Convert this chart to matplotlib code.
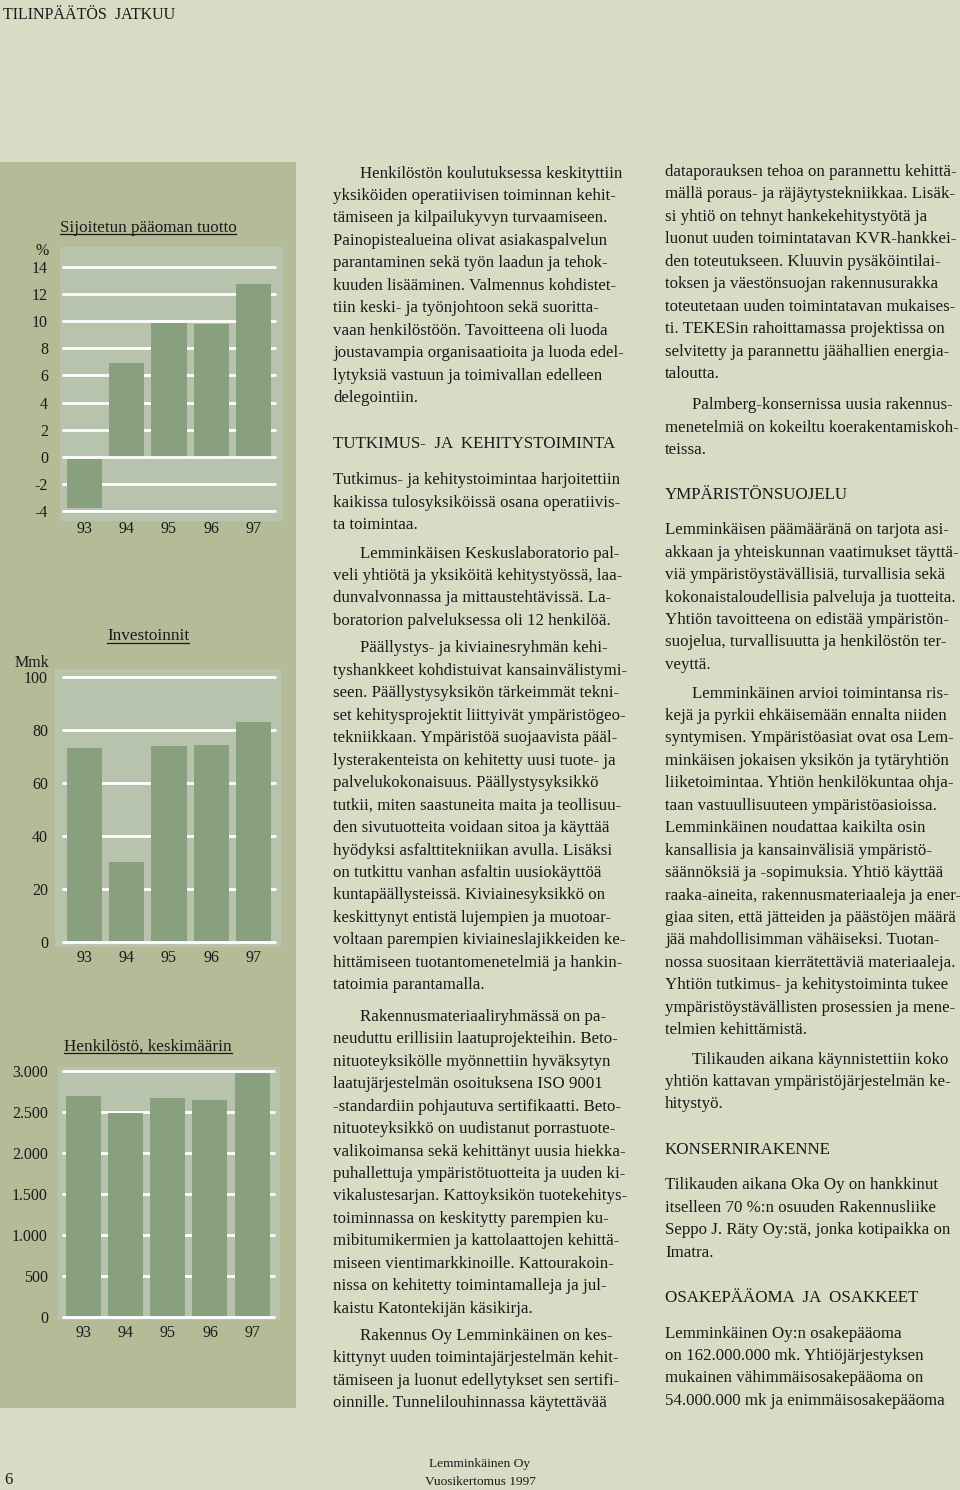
import matplotlib
matplotlib.use("Agg")
import matplotlib.pyplot as plt
from matplotlib.patches import Rectangle
from matplotlib.lines import Line2D

# ---------------- data ----------------
years = ["93", "94", "95", "96", "97"]
roce_values = [-3.8, 6.9, 9.9, 9.8, 12.8]
roce_ticks = [-4, -2, 0, 2, 4, 6, 8, 10, 12, 14]
invest_values = [73.0, 30.0, 74.0, 74.2, 83.0]
invest_ticks = [0, 20, 40, 60, 80, 100]
staff_values = [2700, 2490, 2670, 2640, 2975]
staff_ticks = [0, 500, 1000, 1500, 2000, 2500, 3000]
staff_tick_labels = ["0", "500", "1.000", "1.500", "2.000", "2.500", "3.000"]

chart_titles = ["Sijoitetun pääoman tuotto", "Investoinnit", "Henkilöstö, keskimäärin"]
unit_labels = ["%", "Mmk", ""]

header_text = "TILINPÄÄTÖS  JATKUU"
footer_lines = ["Lemminkäinen Oy", "Vuosikertomus 1997"]
page_number = "6"

col2_p1 = ["Henkilöstön koulutuksessa keskityttiin",
           "yksiköiden operatiivisen toiminnan kehit-",
           "tämiseen ja kilpailukyvyn turvaamiseen.",
           "Painopistealueina olivat asiakaspalvelun",
           "parantaminen sekä työn laadun ja tehok-",
           "kuuden lisääminen. Valmennus kohdistet-",
           "tiin keski- ja työnjohtoon sekä suoritta-",
           "vaan henkilöstöön. Tavoitteena oli luoda",
           "joustavampia organisaatioita ja luoda edel-",
           "lytyksiä vastuun ja toimivallan edelleen",
           "delegointiin."]
col2_h1 = "TUTKIMUS-  JA  KEHITYSTOIMINTA"
col2_p2 = ["Tutkimus- ja kehitystoimintaa harjoitettiin",
           "kaikissa tulosyksiköissä osana operatiivis-",
           "ta toimintaa."]
col2_p3 = ["Lemminkäisen Keskuslaboratorio pal-",
           "veli yhtiötä ja yksiköitä kehitystyössä, laa-",
           "dunvalvonnassa ja mittaustehtävissä. La-",
           "boratorion palveluksessa oli 12 henkilöä."]
col2_p4 = ["Päällystys- ja kiviainesryhmän kehi-",
           "tyshankkeet kohdistuivat kansainvälistymi-",
           "seen. Päällystysyksikön tärkeimmät tekni-",
           "set kehitysprojektit liittyivät ympäristögeo-",
           "tekniikkaan. Ympäristöä suojaavista pääl-",
           "lysterakenteista on kehitetty uusi tuote- ja",
           "palvelukokonaisuus. Päällystysyksikkö",
           "tutkii, miten saastuneita maita ja teollisuu-",
           "den sivutuotteita voidaan sitoa ja käyttää",
           "hyödyksi asfalttitekniikan avulla. Lisäksi",
           "on tutkittu vanhan asfaltin uusiokäyttöä",
           "kuntapäällysteissä. Kiviainesyksikkö on",
           "keskittynyt entistä lujempien ja muotoar-",
           "voltaan parempien kiviaineslajikkeiden ke-",
           "hittämiseen tuotantomenetelmiä ja hankin-",
           "tatoimia parantamalla."]
col2_p5 = ["Rakennusmateriaaliryhmässä on pa-",
           "neuduttu erillisiin laatuprojekteihin. Beto-",
           "nituoteyksikölle myönnettiin hyväksytyn",
           "laatujärjestelmän osoituksena ISO 9001",
           "-standardiin pohjautuva sertifikaatti. Beto-",
           "nituoteyksikkö on uudistanut porrastuote-",
           "valikoimansa sekä kehittänyt uusia hiekka-",
           "puhallettuja ympäristötuotteita ja uuden ki-",
           "vikalustesarjan. Kattoyksikön tuotekehitys-",
           "toiminnassa on keskitytty parempien ku-",
           "mibitumikermien ja kattolaattojen kehittä-",
           "miseen vientimarkkinoille. Kattourakoin-",
           "nissa on kehitetty toimintamalleja ja jul-",
           "kaistu Katontekijän käsikirja."]
col2_p6 = ["Rakennus Oy Lemminkäinen on kes-",
           "kittynyt uuden toimintajärjestelmän kehit-",
           "tämiseen ja luonut edellytykset sen sertifi-",
           "oinnille. Tunnelilouhinnassa käytettävää"]

col3_p1 = ["dataporauksen tehoa on parannettu kehittä-",
           "mällä poraus- ja räjäytystekniikkaa. Lisäk-",
           "si yhtiö on tehnyt hankekehitystyötä ja",
           "luonut uuden toimintatavan KVR-hankkei-",
           "den toteutukseen. Kluuvin pysäköintilai-",
           "toksen ja väestönsuojan rakennusurakka",
           "toteutetaan uuden toimintatavan mukaises-",
           "ti. TEKESin rahoittamassa projektissa on",
           "selvitetty ja parannettu jäähallien energia-",
           "taloutta."]
col3_p2 = ["Palmberg-konsernissa uusia rakennus-",
           "menetelmiä on kokeiltu koerakentamiskoh-",
           "teissa."]
col3_h1 = "YMPÄRISTÖNSUOJELU"
col3_p3 = ["Lemminkäisen päämääränä on tarjota asi-",
           "akkaan ja yhteiskunnan vaatimukset täyttä-",
           "viä ympäristöystävällisiä, turvallisia sekä",
           "kokonaistaloudellisia palveluja ja tuotteita.",
           "Yhtiön tavoitteena on edistää ympäristön-",
           "suojelua, turvallisuutta ja henkilöstön ter-",
           "veyttä."]
col3_p4 = ["Lemminkäinen arvioi toimintansa ris-",
           "kejä ja pyrkii ehkäisemään ennalta niiden",
           "syntymisen. Ympäristöasiat ovat osa Lem-",
           "minkäisen jokaisen yksikön ja tytäryhtiön",
           "liiketoimintaa. Yhtiön henkilökuntaa ohja-",
           "taan vastuullisuuteen ympäristöasioissa.",
           "Lemminkäinen noudattaa kaikilta osin",
           "kansallisia ja kansainvälisiä ympäristö-",
           "säännöksiä ja -sopimuksia. Yhtiö käyttää",
           "raaka-aineita, rakennusmateriaaleja ja ener-",
           "giaa siten, että jätteiden ja päästöjen määrä",
           "jää mahdollisimman vähäiseksi. Tuotan-",
           "nossa suositaan kierrätettäviä materiaaleja.",
           "Yhtiön tutkimus- ja kehitystoiminta tukee",
           "ympäristöystävällisten prosessien ja mene-",
           "telmien kehittämistä."]
col3_p5 = ["Tilikauden aikana käynnistettiin koko",
           "yhtiön kattavan ympäristöjärjestelmän ke-",
           "hitystyö."]
col3_h2 = "KONSERNIRAKENNE"
col3_p6 = ["Tilikauden aikana Oka Oy on hankkinut",
           "itselleen 70 %:n osuuden Rakennusliike",
           "Seppo J. Räty Oy:stä, jonka kotipaikka on",
           "Imatra."]
col3_h3 = "OSAKEPÄÄOMA  JA  OSAKKEET"
col3_p7 = ["Lemminkäinen Oy:n osakepääoma",
           "on 162.000.000 mk. Yhtiöjärjestyksen",
           "mukainen vähimmäisosakepääoma on",
           "54.000.000 mk ja enimmäisosakepääoma"]

# ---------------- style ----------------
W, H = 960, 1490
PAGE = "#d9dcc5"
PANEL = "#b5bb97"
PLOTBG = "#b8c3ae"
BAR = "#88a07d"
INK = "#1a1a1a"
SERIF = ["Liberation Serif", "DejaVu Serif"]
plt.rcParams["font.family"] = SERIF

fig = plt.figure(figsize=(W / 100, H / 100), dpi=100)
fig.patch.set_facecolor(PAGE)


def fx(x):
    return x / W


def fy(y):
    return 1 - y / H


# green side panel
fig.add_artist(Rectangle((fx(0), fy(1408)), fx(296), (1408 - 162) / H,
                         transform=fig.transFigure, facecolor=PANEL,
                         edgecolor="none", zorder=0))


def bar_chart(box, xlim, ylim, values, ticks, ticklabels, grid_x, xlabel_pad):
    left, top, right, bottom = box
    ax = fig.add_axes([fx(left), fy(bottom), (right - left) / W, (bottom - top) / H])
    ax.set_facecolor(PLOTBG)
    pos = list(range(len(years)))
    ax.hlines([t for t in ticks if t != 0], grid_x[0], grid_x[1], colors="white",
              linewidth=2.0, zorder=1)
    ax.bar(pos, values, width=0.83, color=BAR, zorder=2)
    ax.hlines([0], grid_x[0], grid_x[1], colors="white", linewidth=2.0, zorder=3)
    ax.set_xlim(*xlim)
    ax.set_ylim(*ylim)
    ax.set_xticks(pos)
    ax.set_xticklabels(years)
    ax.set_yticks(ticks)
    ax.set_yticklabels(ticklabels)
    for s in ax.spines.values():
        s.set_visible(False)
    ypad = (left - 48) * 0.72
    ax.tick_params(axis="y", length=0, pad=ypad, labelsize=11.5, labelcolor=INK)
    ax.tick_params(axis="x", length=0, pad=xlabel_pad, labelsize=11.5, labelcolor=INK)
    return ax


ax1 = bar_chart((60, 247, 283, 521), (-0.571, 4.69), (-4.76, 15.5),
                roce_values, roce_ticks, [str(t) for t in roce_ticks],
                (-0.524, 4.53), 0.3)
ax2 = bar_chart((55, 669, 281, 947), (-0.689, 4.645), (-2.0, 102.9),
                invest_values, invest_ticks, [str(t) for t in invest_ticks],
                (-0.524, 4.53), 2.3)
ax3 = bar_chart((58, 1067, 280, 1320), (-0.6, 4.66), (-40, 3049),
                staff_values, staff_ticks, staff_tick_labels,
                (-0.505, 4.54), 3.3)

renderer = fig.canvas.get_renderer()

# chart titles (underlined)
for title, base_y in zip(chart_titles, [231.5, 640.5, 1050.5]):
    t = fig.text(fx(148), fy(base_y), title, ha="center", va="baseline",
                 fontsize=12.3, color=INK)
    bb = t.get_window_extent(renderer)
    uy = fy(base_y + 2.8)
    fig.add_artist(Line2D([bb.x0 / W, bb.x1 / W], [uy, uy], color=INK,
                          linewidth=0.9, transform=fig.transFigure))

fig.text(fx(42), fy(255), unit_labels[0], ha="center", va="baseline",
         fontsize=11.5, color=INK)
fig.text(fx(32), fy(667), unit_labels[1], ha="center", va="baseline",
         fontsize=11.5, color=INK)

# header / footer
fig.text(fx(3), fy(19), header_text, ha="left", va="baseline", fontsize=11.5,
         color=INK)
fig.text(fx(480), fy(1467), footer_lines[0], ha="center", va="baseline",
         fontsize=9.6, color=INK)
fig.text(fx(480), fy(1485), footer_lines[1], ha="center", va="baseline",
         fontsize=9.6, color=INK)
fig.text(fx(4), fy(1484), page_number, ha="left", va="baseline", fontsize=12,
         color=INK)

# body text
PITCH = 22.45
BODY = 12.2
INDENT = 27


def paragraph(x, y_center, lines, indent=False):
    for i, line in enumerate(lines):
        xx = x + (INDENT if (indent and i == 0) else 0)
        fig.text(fx(xx), fy(y_center + i * PITCH + 4.2), line, ha="left",
                 va="baseline", fontsize=BODY, color=INK)


def heading(x, y_center, text):
    fig.text(fx(x), fy(y_center + 5.5), text, ha="left", va="baseline",
             fontsize=12.2, color=INK)


C2, C3 = 333, 665
paragraph(C2, 173.3, col2_p1, indent=True)
heading(C2, 442.3, col2_h1)
paragraph(C2, 480.0, col2_p2)
paragraph(C2, 553.3, col2_p3, indent=True)
paragraph(C2, 648.3, col2_p4, indent=True)
paragraph(C2, 1016.7, col2_p5, indent=True)
paragraph(C2, 1335.7, col2_p6, indent=True)

paragraph(C3, 171.7, col3_p1)
paragraph(C3, 405.0, col3_p2, indent=True)
heading(C3, 493.3, col3_h1)
paragraph(C3, 530.0, col3_p3)
paragraph(C3, 693.3, col3_p4, indent=True)
paragraph(C3, 1059.3, col3_p5, indent=True)
heading(C3, 1148.3, col3_h2)
paragraph(C3, 1185.0, col3_p6)
heading(C3, 1296.7, col3_h3)
paragraph(C3, 1333.3, col3_p7)

fig.savefig("out.png", dpi=100, facecolor=fig.get_facecolor())
